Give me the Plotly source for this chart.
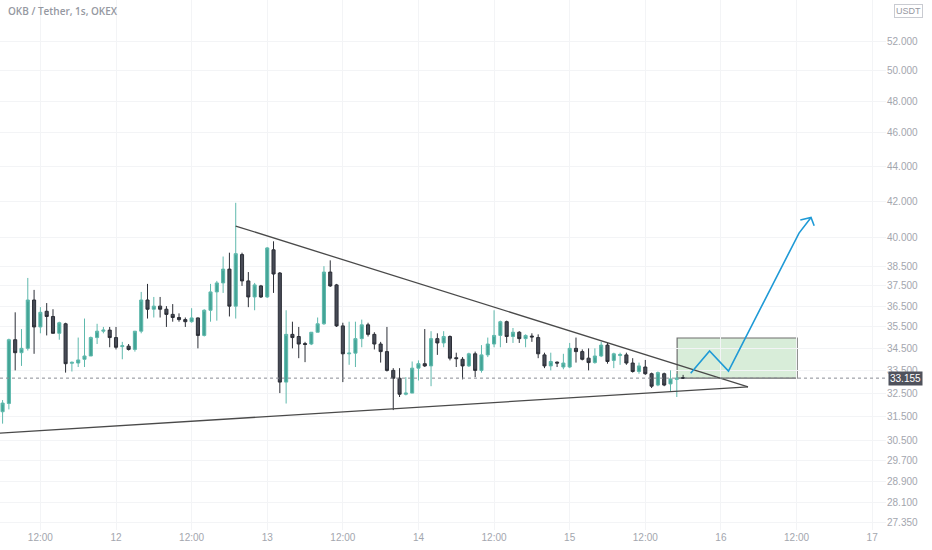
import numpy as np
import pandas as pd
import plotly.graph_objects as go

# =========================
# DATA - OKB/USDT 1h candles
# =========================
opens = [31.70, 32.05, 34.90, 34.30, 34.50, 36.80, 35.50, 36.25, 36.00, 35.20,
         35.65, 33.82, 33.83, 34.00, 34.15, 35.00, 35.30, 35.35, 35.00, 34.58,
         34.60, 34.45, 35.30, 36.80, 36.35, 36.50, 36.35, 36.10, 35.95, 35.85,
         35.75, 35.93, 35.10, 36.30, 37.20, 37.65, 38.35, 36.50, 39.10, 37.75,
         36.95, 37.50, 36.95, 39.35, 38.15, 32.98, 35.15, 35.05, 34.72, 34.70,
         35.25, 35.65, 38.20, 37.55, 35.55, 34.25, 34.28, 34.95, 35.60, 35.15,
         34.70, 34.35, 33.50, 33.15, 32.45, 32.50, 33.60, 33.80, 33.70, 34.95,
         34.75, 35.05, 34.07, 34.00, 33.70, 34.25, 33.50, 34.20, 34.70, 35.10,
         35.75, 35.05, 35.25, 34.95, 35.07, 35.00, 34.20, 33.70, 33.87, 33.65,
         33.65, 34.50, 34.35, 34.05, 33.85, 34.15, 34.65, 33.95, 34.17, 34.20,
         33.83, 33.45, 33.65, 33.35, 32.85, 33.35, 32.90, 33.10, 33.17]
highs = [32.20, 34.95, 36.20, 35.40, 37.90, 37.30, 36.45, 36.65, 36.35, 35.75,
         35.70, 33.90, 35.00, 35.90, 35.05, 35.65, 35.50, 35.50, 35.50, 34.80,
         34.70, 35.30, 37.20, 37.60, 36.95, 36.95, 36.50, 36.60, 36.15, 35.95,
         36.40, 35.95, 36.35, 37.60, 37.75, 39.00, 39.20, 41.90, 39.20, 38.20,
         37.65, 37.55, 39.50, 39.80, 38.20, 36.30, 35.75, 35.50, 34.80, 35.25,
         35.95, 38.50, 38.80, 37.60, 35.70, 35.75, 35.75, 35.85, 35.70, 35.25,
         34.80, 35.50, 33.60, 33.60, 33.20, 33.90, 33.95, 35.40, 35.30, 35.20,
         35.30, 35.10, 34.30, 34.10, 34.30, 34.35, 34.65, 35.00, 36.30, 35.80,
         35.80, 35.45, 35.30, 35.15, 35.20, 35.15, 34.30, 34.30, 33.90, 34.25,
         34.75, 35.00, 34.45, 34.50, 34.50, 34.80, 34.75, 34.30, 34.30, 34.30,
         34.05, 33.85, 33.97, 33.40, 33.45, 33.40, 33.50, 33.35, 33.30]
lows = [31.20, 31.80, 33.50, 33.70, 34.40, 34.25, 35.20, 35.10, 35.20, 34.90,
        33.40, 33.45, 33.65, 33.65, 34.15, 34.70, 35.20, 34.55, 34.45, 34.00,
        34.40, 34.35, 35.20, 35.90, 35.95, 35.95, 35.50, 35.75, 35.75, 35.50,
        35.70, 34.50, 35.05, 35.75, 35.80, 37.15, 36.00, 35.90, 37.50, 36.45,
        36.30, 36.90, 36.90, 37.15, 32.50, 32.05, 34.50, 34.05, 33.87, 34.65,
        35.25, 35.60, 37.45, 35.50, 32.98, 33.75, 33.65, 34.55, 35.05, 34.45,
        33.85, 33.45, 31.77, 32.33, 32.40, 32.50, 33.05, 33.65, 32.80, 34.20,
        34.55, 33.95, 33.65, 33.10, 33.65, 33.20, 33.40, 34.10, 34.55, 34.55,
        34.75, 34.75, 34.75, 34.55, 34.80, 34.05, 33.60, 33.50, 33.65, 33.55,
        33.60, 33.85, 33.95, 33.50, 33.80, 34.10, 33.80, 33.60, 33.75, 33.75,
        33.40, 33.35, 33.30, 32.72, 32.80, 32.80, 32.55, 32.33, 33.15]
closes = [32.07, 34.90, 34.30, 34.50, 36.80, 35.50, 36.20, 36.00, 35.20, 35.70,
          33.80, 33.86, 33.97, 34.15, 35.00, 35.30, 35.35, 35.00, 34.55, 34.62,
          34.45, 35.30, 36.80, 36.35, 36.50, 36.35, 36.10, 35.95, 35.85, 35.75,
          35.93, 35.10, 36.30, 37.20, 37.65, 38.35, 36.50, 39.15, 37.75, 36.95,
          37.55, 36.95, 39.45, 38.10, 32.98, 35.15, 35.00, 34.70, 34.68, 35.25,
          35.65, 38.20, 37.50, 35.55, 34.25, 34.28, 34.95, 35.60, 35.15, 34.70,
          34.35, 33.50, 33.15, 32.45, 32.50, 33.60, 33.80, 33.70, 34.95, 34.75,
          35.05, 34.05, 34.03, 33.70, 34.25, 33.50, 34.20, 34.70, 35.10, 35.75,
          35.05, 35.25, 34.95, 35.10, 35.03, 34.25, 33.70, 33.90, 33.83, 33.83,
          34.50, 34.35, 34.00, 33.85, 34.15, 34.65, 33.90, 34.25, 34.22, 33.83,
          33.45, 33.70, 33.35, 32.80, 33.40, 32.85, 33.12, 33.16, 33.155]

last_price = 33.155

# cizimler (saat cinsinden, 11. gun 00:00'dan itibaren)
upper_line_h = [43, 124.3]
upper_line_p = [40.62, 32.77]
lower_line_h = [5.0, 124.3]
lower_line_p = [30.80, 32.77]

box_h = [113.05, 132.1]
box_p = [33.155, 34.98]

arrow_h = [115.2, 118.2, 121.2, 132.4, 134.3]
arrow_p = [33.37, 34.38, 33.47, 40.24, 41.09]
head_h = [132.6, 134.3, 134.8]
head_p = [40.95, 41.09, 40.64]

y_ticks = [52.0, 50.0, 48.0, 46.0, 44.0, 42.0, 40.0, 38.5, 37.5, 36.5, 35.5,
           34.5, 33.5, 32.5, 31.5, 30.5, 29.7, 28.9, 28.1, 27.35]
x_tick_h = [12, 24, 36, 48, 60, 72, 84, 96, 108, 120, 132, 144]
x_tick_text = ["12:00", "12", "12:00", "13", "12:00", "14", "12:00", "15",
               "12:00", "16", "12:00", "17"]

base = pd.Timestamp("2022-03-11 00:00")


def at(hours):
    return [base + pd.Timedelta(hours=h) for h in hours]


times = pd.date_range("2022-03-11 06:00", periods=len(opens), freq="h")

GRID = "#f3f4f6"
TXT = "#a3a6ae"

fig = go.Figure()

fig.add_trace(go.Candlestick(
    x=times, open=opens, high=highs, low=lows, close=closes,
    increasing=dict(line=dict(color="#5fb9ad", width=1), fillcolor="#43a496"),
    decreasing=dict(line=dict(color="#2c2f37", width=1), fillcolor="#474b56"),
    whiskerwidth=0, hoverinfo="skip", showlegend=False
))

# trend cizgileri
for hh, pp in [(upper_line_h, upper_line_p), (lower_line_h, lower_line_p)]:
    fig.add_trace(go.Scatter(
        x=at(hh), y=pp, mode="lines",
        line=dict(color="#4a4a4a", width=1.3),
        hoverinfo="skip", showlegend=False
    ))

# yesil kutu
fig.add_shape(
    type="rect", xref="x", yref="y",
    x0=at(box_h)[0], x1=at(box_h)[1], y0=box_p[0], y1=box_p[1],
    fillcolor="rgba(200,230,201,0.7)",
    line=dict(color="#6f6f6f", width=1.2), layer="below"
)

# son fiyat cizgisi
fig.add_shape(
    type="line", xref="paper", yref="y",
    x0=0, x1=1, y0=last_price, y1=last_price,
    line=dict(color="#8a8d95", width=1, dash="dot")
)

# mavi ok
fig.add_trace(go.Scatter(
    x=at(arrow_h), y=arrow_p, mode="lines",
    line=dict(color="#1f9ad6", width=1.6),
    hoverinfo="skip", showlegend=False
))
fig.add_trace(go.Scatter(
    x=at(head_h), y=head_p, mode="lines",
    line=dict(color="#1f9ad6", width=1.6),
    hoverinfo="skip", showlegend=False
))

fig.update_layout(
    width=932, height=550,
    margin=dict(l=0, r=46, t=0, b=20),
    paper_bgcolor="white", plot_bgcolor="white",
    showlegend=False,
    font=dict(family="Liberation Sans, Arial, sans-serif", size=10, color=TXT),
    annotations=[
        dict(text="OKB / Tether, 1s, OKEX", xref="paper", yref="paper",
             x=0, y=1, xanchor="left", yanchor="middle", xshift=6, yshift=-11,
             showarrow=False, font=dict(size=10, color="#9598a1", weight=600,
                                        family="Open Sans, sans-serif")),
        dict(text="USDT", xref="paper", yref="paper",
             x=1, y=1, xanchor="center", yanchor="middle", xshift=22, yshift=-11,
             showarrow=False, bordercolor="#c9cbd1", borderwidth=1, borderpad=1,
             font=dict(size=9, color="#9598a1")),
        dict(text="33.155", xref="paper", yref="y",
             x=1, y=np.log10(last_price), xanchor="left", yanchor="middle",
             xshift=2, showarrow=False, bgcolor="#4f525c", borderpad=1,
             font=dict(size=10, color="white")),
    ],
)

fig.update_xaxes(
    type="date", range=at([5.59, 146.2]),
    rangeslider_visible=False,
    tickvals=at(x_tick_h), ticktext=x_tick_text,
    showgrid=True, gridcolor=GRID, gridwidth=1,
    zeroline=False, showline=False, ticks="",
    tickfont=dict(size=10, color=TXT)
)
fig.update_yaxes(
    type="log", side="right",
    range=[np.log10(27.07), np.log10(54.93)],
    tickvals=y_ticks, ticktext=[f"{v:.3f}" for v in y_ticks],
    showgrid=True, gridcolor=GRID, gridwidth=1,
    zeroline=False, showline=False, ticks="",
    tickfont=dict(size=10, color=TXT)
)

fig.write_html("out.html", config={"displayModeBar": False},
               post_script="document.body.style.margin='0';")
